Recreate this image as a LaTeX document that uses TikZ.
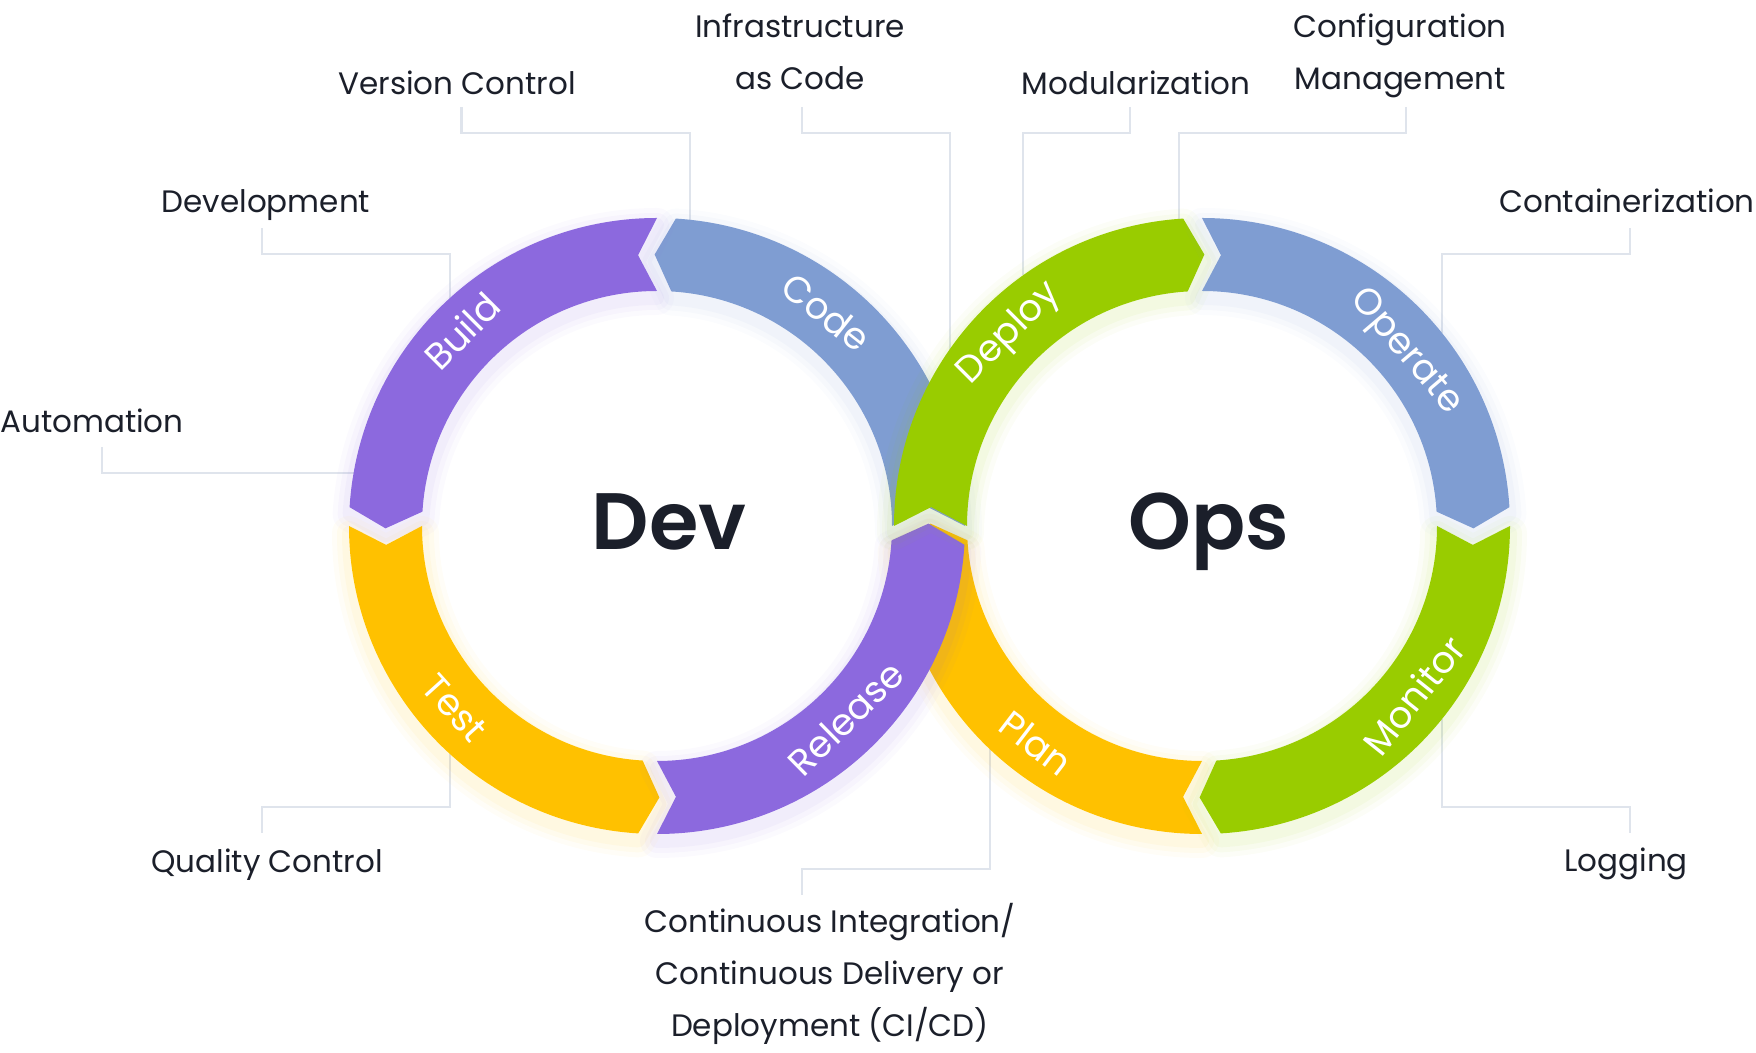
\documentclass[tikz,border=0pt]{standalone}
\usepackage{fontspec}
\setmainfont{Poppins}
\newfontfamily\hubfont{Poppins SemiBold}
\usetikzlibrary{calc}

\definecolor{devpurple}{HTML}{8C69DE}
\definecolor{codeblue}{HTML}{7F9DD2}
\definecolor{opsgreen}{HTML}{99CC00}
\definecolor{testyellow}{HTML}{FFC100}
\definecolor{ink}{HTML}{1B1F2A}
\definecolor{leadgrey}{HTML}{DFE4EC}

\def\Ro{308}
\def\Ri{235}
\def\Rm{271.5}

% one arrow piece of a ring: options, start angle, end angle, direction (+1/-1)
\newcommand{\ringseg}[4]{%
  \pgfmathsetmacro{\segc}{#3-(#4)*3.5}%
  \pgfmathsetmacro{\segt}{#3+(#4)*0.5}%
  \pgfmathsetmacro{\segn}{#2+(#4)*4}%
  \path[#1] (#2:\Ro) arc[start angle=#2, end angle=\segc, radius=\Ro]
    -- (\segt:\Rm) -- (\segc:\Ri) arc[start angle=\segc, end angle=#2, radius=\Ri]
    -- (\segn:\Rm) -- cycle;
}
\newcommand{\glowseg}[4]{%
  \foreach \w/\o in {34/.03,24/.04,14/.05}
    {\ringseg{draw=#1, line width=\w pt, opacity=\o, line join=round, yshift=-7pt}{#2}{#3}{#4}}%
  \ringseg{fill=#1}{#2}{#3}{#4}%
}

\begin{document}
\begin{tikzpicture}[x=1pt, y=1pt,
  lbl/.style={font=\fontsize{31}{52}\selectfont, text=ink, inner sep=0pt, anchor=base, align=center},
  seglbl/.style={font=\fontsize{37}{37}\selectfont, text=white, inner sep=0pt, text height=26pt, text depth=0pt},
  hub/.style={font=\fontsize{80}{80}\selectfont\hubfont, text=ink, inner sep=0pt, anchor=base},
  leader/.style={draw=leadgrey, line width=2.5pt}]
 \useasboundingbox (0,0) rectangle (1756,1052);

 \node[lbl] (vc) at (457,957) {Version Control};
 \node[lbl] (iac) at (800,962) {Infrastructure\\as Code};
 \node[lbl] (mod) at (1136,957) {Modularization};
 \node[lbl] (cfg) at (1400,962) {Configuration\\Management};
 \node[lbl] (dvl) at (266,839) {Development};
 \node[lbl] (cnt) at (1627,839) {Containerization};
 \node[lbl] (aut) at (92,619) {Automation};
 \node[lbl] (qc) at (267,179) {Quality Control};
 \node[lbl] (log) at (1626,180) {Logging};
 \node[lbl] (cicd) at (830,15) {Continuous Integration/\\Continuous Delivery or\\Deployment (CI/CD)};

 \coordinate (vcend) at (690,832);
 \coordinate (iacend) at (950,700);
 \coordinate (modend) at (1023,777);
 \coordinate (cfgend) at (1179,833);
 \coordinate (dvlend) at (450,754);
 \coordinate (cntend) at (1442,719);
 \coordinate (autend) at (354,579);
 \coordinate (qcend) at (450,298);
 \coordinate (logend) at (1442,333);
 \coordinate (cicdend) at (990,303);

 \draw[leader] ([shift={(4.5,-12)}]vc.base) -- ++(0,-26) -| (vcend);
 \draw[leader] ([shift={(2,-17)}]iac.base) -- ++(0,-26) -| (iacend);
 \draw[leader] ([shift={(-6,-12)}]mod.base) -- ++(0,-26) -| (modend);
 \draw[leader] ([shift={(6,-17)}]cfg.base) -- ++(0,-26) -| (cfgend);
 \draw[leader] ([shift={(-4,-15)}]dvl.base) -- ++(0,-26) -| (dvlend);
 \draw[leader] ([shift={(3,-15)}]cnt.base) -- ++(0,-26) -| (cntend);
 \draw[leader] ([shift={(10,-14)}]aut.base) -- ++(0,-26) -- (autend);
 \draw[leader] ([shift={(-5,40)}]qc.base) -- ++(0,26) -| (qcend);
 \draw[leader] ([shift={(4,39)}]log.base) -- ++(0,26) -| (logend);
 \draw[leader] ([shift={(-28,142)}]cicd.base) -- ++(0,26) -| (cicdend);

 \begin{scope}[shift={(657,526)}]
  \glowseg{codeblue}{0}{90}{1}
 \end{scope}
 \begin{scope}[shift={(1202,526)}]
  \glowseg{testyellow}{-90}{-180}{-1}
 \end{scope}
 \begin{scope}[shift={(657,526)}]
  \glowseg{devpurple}{90}{180}{1}
  \glowseg{testyellow}{180}{270}{1}
  \glowseg{devpurple}{270}{360}{1}
  \node[seglbl, rotate=-38.4] (code) at (51.6:272) {Code};
  \node[seglbl, rotate=45] (build) at (135:275) {Build};
  \node[seglbl, rotate=-48] (test) at (222:272) {Test};
  \node[seglbl, rotate=44.5] (release) at (314.5:270) {Release};
 \end{scope}
 \begin{scope}[shift={(1202,526)}]
  \glowseg{opsgreen}{180}{90}{-1}
  \glowseg{codeblue}{90}{0}{-1}
  \glowseg{opsgreen}{0}{-90}{-1}
  \node[seglbl, rotate=45] (deploy) at (135:276) {Deploy};
  \node[seglbl, rotate=-49.5] (operate) at (40.5:272) {Operate};
  \node[seglbl, rotate=51.4] (monitor) at (-38.6:272) {Monitor};
  \node[seglbl, rotate=-37.4] (plan) at (232.6:274) {Plan};
 \end{scope}

 \node[hub] (dev) at (669,502) {Dev};
 \node[hub] (ops) at (1209,502) {Ops};
\end{tikzpicture}
\end{document}
